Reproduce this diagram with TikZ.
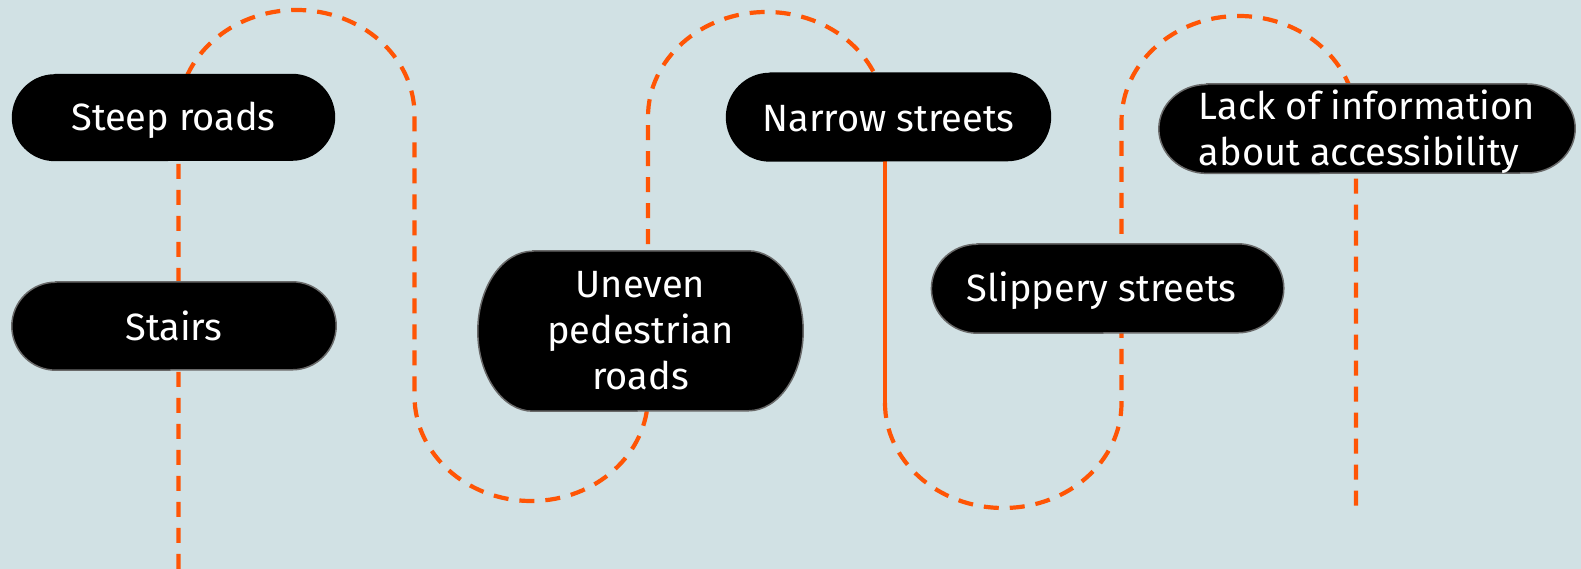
\documentclass[tikz,border=0pt]{standalone}
\usepackage{fontspec}
\setmainfont{Fira Sans}
\definecolor{bgc}{RGB}{209,225,228}
\definecolor{trackc}{RGB}{255,85,5}
\definecolor{rimc}{RGB}{105,105,105}
\pgfdeclarelayer{bglayer}
\pgfdeclarelayer{tracklayer}
\pgfdeclarelayer{pilllayer}
\pgfsetlayers{bglayer,tracklayer,pilllayer,main}
\newcommand\pillshape[4][]{%
  \begin{pgfonlayer}{pilllayer}
    \path[pillfill,#1] ([xshift=#3pt]#2.north west) -- ([xshift=-#3pt]#2.north east)
      arc[start angle=90,end angle=-90,x radius=#3,y radius=#4]
      -- ([xshift=#3pt]#2.south west)
      arc[start angle=270,end angle=90,x radius=#3,y radius=#4] -- cycle;
  \end{pgfonlayer}}
\begin{document}
\begin{tikzpicture}[x=1pt,y=1pt,
  box/.style={inner sep=0pt, draw=none},
  lbl/.style={text=white, font=\fontsize{38}{46}\selectfont, inner sep=0pt, draw=none},
  pillfill/.style={fill=black},
  rimmed/.style={draw=rimc, line width=1.5pt},
  trackline/.style={draw=trackc, line width=4.2pt},
  trackdash/.style={trackline, dash pattern=on 15pt off 11pt}]
\begin{pgfonlayer}{bglayer}
  \fill[bgc] (0,0) rectangle (1581,569);
\end{pgfonlayer}
\useasboundingbox (0,0) rectangle (1581,569);

% boxes
\node[box, minimum width=323pt, minimum height=87pt] (steep) at (173.5,451.5) {};
\node[box, minimum width=324pt, minimum height=88pt] (stairs) at (174,243) {};
\node[box, minimum width=325pt, minimum height=160pt] (uneven) at (640.5,238) {};
\node[box, minimum width=325pt, minimum height=89pt] (narrow) at (888.5,452) {};
\node[box, minimum width=352pt, minimum height=89pt] (slippery) at (1107.6,280.5) {};
\node[box, minimum width=416pt, minimum height=89pt] (lack) at (1367,440.3) {};

% texts
\node[lbl] (steeptext) at ([yshift=-3pt]steep.center) {Steep roads};
\node[lbl] (stairstext) at (stairs.center) {Stairs};
\node[lbl, align=center] (uneventext) at (uneven.center) {Uneven\\pedestrian\\roads};
\node[lbl] (narrowtext) at ([yshift=-1.5pt]narrow.center) {Narrow streets};
\node[lbl] (sliptext) at ([xshift=-6pt,yshift=-2pt]slippery.center) {Slippery streets};
\node[lbl, align=left] (lacktext) at ([xshift=0pt,yshift=-3pt]lack.center) {Lack of information\\about accessibility};

\pillshape{steep}{43}{43.5}
\pillshape[rimmed]{stairs}{44}{44}
\pillshape[rimmed]{uneven}{55}{80}
\pillshape{narrow}{44}{44.5}
\pillshape[rimmed]{slippery}{46}{44.5}
\pillshape[rimmed]{lack}{48}{44.5}

% track coordinates
\coordinate (t0) at (178.5,0);
\coordinate (t1) at (178.5,454);
\coordinate (t2) at (414.5,173);
\coordinate (t3) at (648,452);
\coordinate (t4) at (885,452);
\coordinate (t5) at (885,166);
\coordinate (t6) at (1121.5,448);
\coordinate (t7) at (1356,63);

\begin{pgfonlayer}{tracklayer}
  \draw[trackdash] (t0) -- (t1)
    arc[start angle=180,end angle=0,x radius=118,y radius=105]
    -- (t2)
    arc[start angle=180,end angle=360,x radius=116.75,y radius=105]
    -- (t3)
    arc[start angle=180,end angle=0,x radius=118.5,y radius=105];
  \draw[trackline] (t4) -- (t5);
  \draw[trackdash] (t5)
    arc[start angle=180,end angle=360,x radius=118.25,y radius=105]
    -- (t6)
    arc[start angle=180,end angle=0,x radius=117.25,y radius=105]
    -- (t7);
\end{pgfonlayer}
\end{tikzpicture}
\end{document}
